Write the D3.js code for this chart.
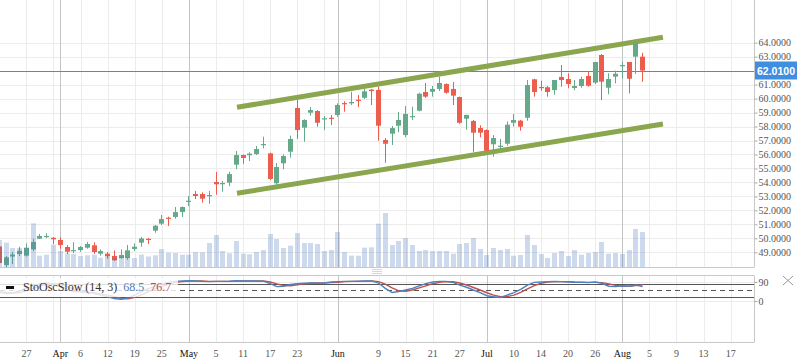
<!DOCTYPE html>
<html>
<head>
<meta charset="utf-8">
<script src="https://cdn.jsdelivr.net/npm/d3@7"></script>
<style>
  body { margin: 0; background: #fff; }
  svg { display: block; }
</style>
</head>
<body>
<svg id="chart" width="798" height="363"></svg>
<script>
// Daily candles, oldest first
const open  = [49.42,48.09,48.70,48.88,48.76,49.21,49.97,50.10,50.04,49.88,49.38,49.09,49.16,49.33,49.50,48.90,48.90,48.74,48.59,48.59,
               49.24,49.69,49.97,50.55,51.05,51.48,51.53,51.88,52.62,53.17,53.17,53.01,54.03,53.87,53.98,55.27,55.96,55.94,56.03,56.68,
               56.08,53.94,55.37,56.20,59.33,57.92,58.99,59.11,58.52,58.63,58.83,59.68,59.66,59.92,60.06,60.64,60.62,57.04,57.49,58.06,
               57.39,58.68,59.13,60.47,60.49,60.69,61.04,60.69,60.11,58.56,58.40,57.89,57.75,56.73,56.54,56.77,58.27,58.42,58.63,61.38,
               60.83,60.81,60.61,61.55,61.40,60.76,60.90,61.62,61.14,63.12,60.78,61.57,62.31,62.62,63.00,63.00];
const high  = [49.60,48.73,49.02,49.40,49.64,49.95,50.31,50.36,50.09,50.09,49.52,49.72,49.45,49.74,49.71,49.21,49.02,49.14,49.21,49.52,
               49.64,50.09,50.02,50.95,51.67,51.55,52.24,52.28,53.03,53.39,53.29,53.39,54.75,54.10,54.77,56.25,56.00,56.16,56.61,57.27,
               56.13,55.39,56.01,57.35,59.90,58.52,59.40,59.18,58.75,58.83,59.66,59.81,60.49,60.26,60.71,60.69,60.85,57.18,58.04,59.04,
               59.47,59.42,60.42,61.12,60.90,61.57,61.09,61.19,60.14,58.85,58.47,58.09,57.80,57.39,57.11,58.37,58.90,58.47,61.33,61.42,
               61.28,60.90,61.33,62.40,61.81,61.33,61.57,61.97,62.62,63.19,61.81,62.00,62.62,62.62,64.24,63.28];
const low   = [48.10,47.95,48.16,48.73,48.70,49.09,49.95,50.02,49.59,49.26,48.88,48.93,49.04,49.26,48.88,48.76,48.54,48.38,48.54,48.47,
               49.09,49.40,49.59,50.40,50.95,50.88,51.40,51.53,52.31,52.81,52.55,52.48,53.12,53.34,53.74,54.96,55.34,55.53,55.96,56.44,
               54.17,53.79,54.94,55.77,57.11,56.91,58.78,57.99,57.75,58.11,58.70,59.06,59.54,59.40,59.97,59.54,56.99,55.41,56.68,57.59,
               57.23,58.47,59.09,60.04,60.14,60.54,60.35,59.54,58.20,57.77,56.20,57.23,56.20,55.84,56.32,56.63,57.99,57.70,58.42,60.14,
               60.56,60.14,60.28,60.85,60.74,60.61,60.78,60.85,61.04,59.90,60.31,61.09,61.45,60.38,61.76,61.21];
const close = [48.23,48.64,48.84,49.11,49.33,49.74,50.17,50.17,49.93,49.52,49.04,49.16,49.38,49.59,49.02,49.09,48.71,48.43,48.81,49.14,
               49.40,49.99,49.90,50.90,51.38,51.40,51.88,52.24,52.69,53.03,52.84,53.10,53.87,53.96,54.60,55.96,55.75,56.06,56.39,56.75,
               54.25,55.10,55.89,57.11,57.75,58.47,59.18,58.27,58.59,58.56,59.54,59.59,59.76,59.83,60.52,60.54,58.06,56.77,57.89,58.47,
               58.90,58.75,60.35,60.14,60.69,61.12,60.42,60.21,58.27,58.83,57.56,57.56,56.27,57.18,56.63,58.13,58.47,57.99,60.97,60.47,
               60.76,60.47,61.33,61.33,61.04,60.90,61.40,60.92,62.62,61.21,61.40,61.78,62.40,61.42,64.00,62.01];
// volume, thousands
const volume = [275,248,195,195,195,442,118,128,228,165,142,135,115,122,128,98,108,92,108,102,
                95,130,110,122,185,148,145,128,128,155,152,245,325,165,142,265,138,132,155,175,
                335,285,195,218,345,245,245,235,165,175,355,155,118,118,198,202,438,545,225,265,
                295,225,165,175,165,165,165,138,235,245,295,185,125,195,175,185,118,125,325,225,
                135,95,145,165,115,175,128,145,155,255,138,145,135,175,385,355];
// StoOscSlow (14, 3): %K blue, %D red
const stochK = [40,35,38,48,60,72,82,85,80,68,55,45,42,40,35,28,20,12,8,14,
                28,45,58,70,82,88,93,95,96,95,93,92,93,93,94,96,95,95,95,94,
                82,68,70,78,82,84,86,84,86,90,92,93,93,94,95,95,85,60,40,45,
                52,60,72,82,90,93,93,88,75,65,52,40,25,20,16,28,40,55,75,88,
                90,92,93,92,90,88,88,87,90,84,70,68,72,70,76,68.5];
const stochD = [45,40,38,40,48,60,71,80,82,78,68,56,47,42,39,34,28,20,13,11,
                17,29,44,58,70,80,88,92,95,95,95,93,93,93,93,94,95,95,95,95,
                90,81,73,72,77,81,84,85,85,87,89,92,93,93,94,95,92,80,62,48,
                46,52,62,72,82,88,92,91,85,76,64,52,39,28,20,21,28,41,57,73,
                84,90,92,92,92,90,89,88,88,87,81,74,70,70,73,76.7];

// trend channel drawn on the chart: [slot, price]
const channelUpper = [[35.1, 59.38], [98.0, 64.39]];
const channelLower = [[35.1, 53.22], [98.0, 58.18]];
const lastPrice = 62.01;

const priceTicks = [49,50,51,52,53,54,55,56,57,58,59,60,61,62,63,64];
const oscTicks = [0, 90];
const oscLevels = [80, 50, 20];
const xTickSlots  = [4, 8, 9, 12, 16, 20, 24, 28, 32, 36, 40, 44, 48, 50, 56, 60, 64, 68, 72, 76, 80, 84, 88, 92, 96, 100, 104, 108];
const xTickLabels = ["27", "", "Apr", "6", "12", "19", "25", "May", "5", "11", "17", "23", "", "Jun", "9", "15", "21", "27", "Jul", "10", "14", "20", "26", "Aug", "5", "9", "13", "17"];
const monthNames = ["Apr", "May", "Jun", "Jul", "Aug"];

const svg = d3.select('#chart');
const plotRight = 754;
const mainBottom = 267.5;
const oscTop = 275.5, oscBottom = 342.5;

const upColor = '#66a98a';
const downColor = '#ec5d4d';
const priceBlue = '#3f8ee0';
const serif = '"Liberation Serif", "Times New Roman", serif';

const x = d3.scaleLinear().domain([0.1, 111.45]).range([0, plotRight]);
const y = d3.scaleLinear().domain([49, 64]).range([252.3, 42.7]);
const yVol = d3.scaleLinear().domain([0, 600]).range([mainBottom, mainBottom - 60]);
const yOsc = d3.scaleLinear().domain([0, 90]).range([301, 282]);

const crisp = v => Math.round(v) + 0.5;

svg.append('defs').call(defs => {
    defs.append('clipPath').attr('id', 'clip-main')
        .append('rect').attr('x', 0).attr('y', 0).attr('width', plotRight).attr('height', mainBottom);
    defs.append('clipPath').attr('id', 'clip-osc')
        .append('rect').attr('x', 0).attr('y', oscTop).attr('width', plotRight).attr('height', oscBottom - oscTop);
});

// Grid
const grid = svg.append('g');
priceTicks.forEach(p => {
    grid.append('line')
        .attr('x1', 0).attr('x2', plotRight)
        .attr('y1', crisp(y(p))).attr('y2', crisp(y(p)))
        .attr('stroke', '#ececec');
});
oscTicks.forEach(v => {
    grid.append('line')
        .attr('x1', 0).attr('x2', plotRight)
        .attr('y1', crisp(yOsc(v))).attr('y2', crisp(yOsc(v)))
        .attr('stroke', '#ececec');
});
xTickSlots.forEach((s, i) => {
    const isMonth = monthNames.includes(xTickLabels[i]);
    [[0, mainBottom], [oscTop, oscBottom]].forEach(([a, b]) => {
        grid.append('line')
            .attr('x1', crisp(x(s))).attr('x2', crisp(x(s)))
            .attr('y1', a).attr('y2', b)
            .attr('stroke', isMonth ? '#c4c4c4' : '#ececec');
    });
});

// Last price line
svg.append('line')
    .attr('x1', 0).attr('x2', plotRight)
    .attr('y1', crisp(y(lastPrice))).attr('y2', crisp(y(lastPrice)))
    .attr('stroke', priceBlue);

const main = svg.append('g').attr('clip-path', 'url(#clip-main)');

// Channel
[channelUpper, channelLower].forEach(pts => {
    main.append('line')
        .attr('x1', x(pts[0][0])).attr('y1', y(pts[0][1]))
        .attr('x2', x(pts[1][0])).attr('y2', y(pts[1][1]))
        .attr('stroke', '#8aa64e')
        .attr('stroke-width', 5);
});

// Candles
const bodyW = 5;
const candles = main.append('g')
    .selectAll('g')
    .data(close.map((c, i) => ({ i, o: open[i], h: high[i], l: low[i], c })))
    .join('g');

candles.append('rect')
    .attr('x', d => Math.round(x(d.i) - bodyW / 2) + 2)
    .attr('width', 1)
    .attr('y', d => y(d.h))
    .attr('height', d => y(d.l) - y(d.h))
    .attr('fill', d => d.c >= d.o ? upColor : downColor);

candles.append('rect')
    .attr('x', d => Math.round(x(d.i) - bodyW / 2))
    .attr('width', bodyW)
    .attr('y', d => y(Math.max(d.o, d.c)))
    .attr('height', d => Math.max(1.2, Math.abs(y(d.o) - y(d.c))))
    .attr('fill', d => d.c >= d.o ? upColor : downColor);

// Volume (drawn over candles, translucent)
main.append('g')
    .selectAll('rect')
    .data(volume)
    .join('rect')
    .attr('x', (d, i) => Math.round(x(i) - bodyW / 2))
    .attr('width', bodyW)
    .attr('y', d => yVol(d))
    .attr('height', d => mainBottom - yVol(d))
    .attr('fill', 'rgb(70,120,190)')
    .attr('fill-opacity', 0.27);

// Oscillator
const osc = svg.append('g').attr('clip-path', 'url(#clip-osc)');
oscLevels.forEach(v => {
    osc.append('line')
        .attr('x1', 0).attr('x2', plotRight)
        .attr('y1', crisp(yOsc(v))).attr('y2', crisp(yOsc(v)))
        .attr('stroke', '#555')
        .attr('stroke-dasharray', v === 50 ? '5,4' : null);
});
const oscLine = d3.line().x((d, i) => x(i)).y(d => yOsc(d));
osc.append('path').datum(stochD)
    .attr('d', oscLine).attr('fill', 'none')
    .attr('stroke', '#c0504d').attr('stroke-width', 1.4);
osc.append('path').datum(stochK)
    .attr('d', oscLine).attr('fill', 'none')
    .attr('stroke', '#4f81bd').attr('stroke-width', 1.4);

// Legend
const legend = svg.append('g');
legend.append('rect')
    .attr('x', 0).attr('y', 278).attr('width', 178).attr('height', 19)
    .attr('fill', '#fff').attr('fill-opacity', 0.8);
legend.append('rect')
    .attr('x', 6).attr('y', 286).attr('width', 8).attr('height', 3)
    .attr('fill', '#111');
let lx = 23;
[["StoOscSlow (14, 3)", '#333'], [String(stochK[stochK.length - 1]), '#4f81bd'], [String(stochD[stochD.length - 1]), '#c0504d']]
    .forEach(([t, c]) => {
        const el = legend.append('text')
            .attr('x', lx).attr('y', 291)
            .style('font-family', serif).style('font-size', '12px')
            .attr('fill', c)
            .text(t);
        lx += el.node().getComputedTextLength() + 6;
    });

// Panel borders
const border = '#c8c8c8';
svg.append('line').attr('x1', 0).attr('x2', plotRight).attr('y1', mainBottom).attr('y2', mainBottom).attr('stroke', border);
svg.append('line').attr('x1', 0).attr('x2', plotRight).attr('y1', oscTop).attr('y2', oscTop).attr('stroke', border);
svg.append('line').attr('x1', 0).attr('x2', plotRight).attr('y1', oscBottom).attr('y2', oscBottom).attr('stroke', border);
svg.append('line').attr('x1', plotRight + 0.5).attr('x2', plotRight + 0.5).attr('y1', 0).attr('y2', mainBottom).attr('stroke', border);
svg.append('line').attr('x1', plotRight + 0.5).attr('x2', plotRight + 0.5).attr('y1', oscTop).attr('y2', oscBottom).attr('stroke', border);

// Resize handle between panels
[269.5, 271.5, 273.5].forEach(yy => {
    svg.append('line').attr('x1', 372).attr('x2', 382).attr('y1', yy).attr('y2', yy).attr('stroke', '#d6d6d6');
});

// Right axes
const yAxis = svg.append('g')
    .attr('transform', `translate(${plotRight + 0.5},0)`)
    .call(d3.axisRight(y).tickValues(priceTicks).tickFormat(d3.format('.4f')).tickSize(3).tickPadding(1));
const oAxis = svg.append('g')
    .attr('transform', `translate(${plotRight + 0.5},0)`)
    .call(d3.axisRight(yOsc).tickValues(oscTicks).tickSize(3).tickPadding(1));
[yAxis, oAxis].forEach(a => {
    a.select('.domain').remove();
    a.selectAll('line').attr('stroke', '#aaa');
    a.selectAll('text').style('font-family', serif).style('font-size', '10px').attr('fill', '#555');
});
// the price tag covers the tick label it sits on
yAxis.selectAll('.tick')
    .filter(d => Math.abs(y(d) - y(lastPrice)) < 9)
    .select('text').remove();

// Last price tag
svg.append('rect')
    .attr('x', 755).attr('y', y(lastPrice) - 9)
    .attr('width', 42).attr('height', 18)
    .attr('fill', priceBlue);
svg.append('text')
    .attr('x', 776).attr('y', y(lastPrice) + 4)
    .attr('text-anchor', 'middle')
    .style('font-family', '"Liberation Sans", Arial, sans-serif')
    .style('font-size', '10.5px').style('font-weight', 'bold')
    .attr('fill', '#fff')
    .text(lastPrice.toFixed(4));

// Close icon
svg.append('path')
    .attr('d', 'M783,276L793,285M793,276L783,285')
    .attr('stroke', '#999').attr('fill', 'none');

// X labels
svg.append('g')
    .selectAll('text')
    .data(xTickSlots.map((s, i) => ({ s, t: xTickLabels[i] })).filter(d => d.t))
    .join('text')
    .attr('x', d => x(d.s))
    .attr('y', 357)
    .attr('text-anchor', 'middle')
    .style('font-family', serif)
    .style('font-size', '10px')
    .attr('fill', d => monthNames.includes(d.t) ? '#111' : '#555')
    .text(d => d.t);
</script>
</body>
</html>
